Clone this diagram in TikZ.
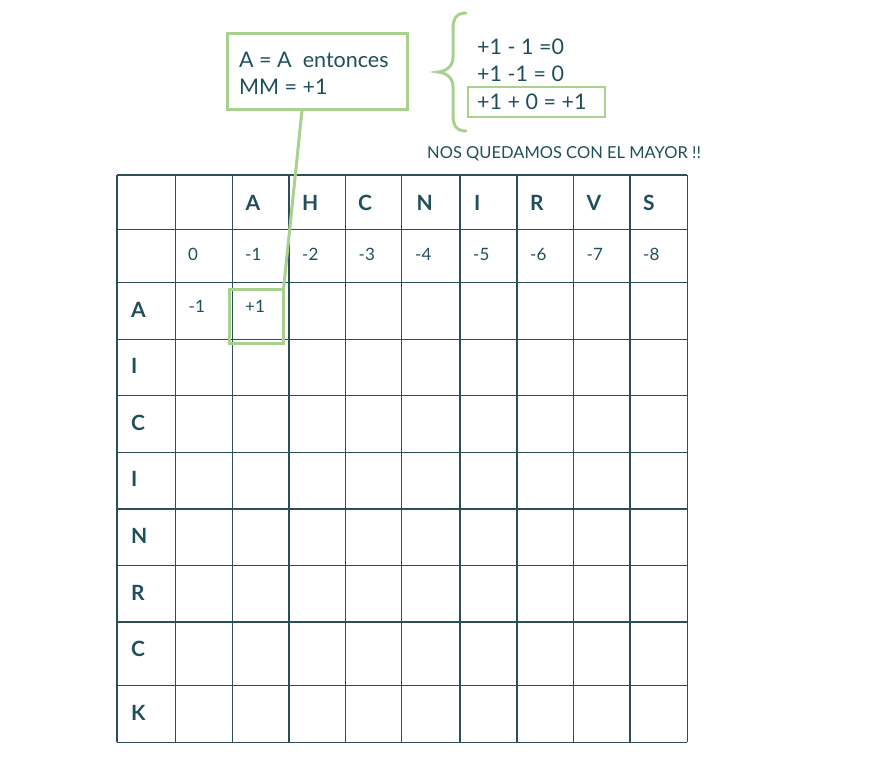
\documentclass[tikz,border=0pt]{standalone}
\usepackage{fontspec}
\setmainfont{Lato}
\definecolor{txt}{HTML}{1F4F5A}
\definecolor{gridc}{HTML}{2C4E57}
\definecolor{grn}{HTML}{A9D18E}
\begin{document}
\begin{tikzpicture}[x=1pt,y=-1pt,
  gridline/.style={draw=gridc,line width=1.5pt},
  hdr/.style={anchor=west,inner sep=0pt,text=txt,font=\fontsize{21}{24}\bfseries\selectfont},
  num/.style={anchor=west,inner sep=0pt,text=txt,font=\fontsize{17}{20}\selectfont},
  big/.style={anchor=base west,inner sep=0pt,text=txt,font=\fontsize{21.5}{24}\selectfont},
  small/.style={anchor=base west,inner sep=0pt,text=txt,font=\fontsize{16.5}{18}\selectfont},
  greenbox/.style={draw=grn,line width=3pt,outer sep=0pt},
]
\useasboundingbox (0,0) rectangle (879,760);
% grid
\foreach \y in {175,229.5,282.5,339.3,395.7,452.3,509,565.5,621.8,685.7,742.3}
  \draw[gridline] (117,\y) -- (687.3,\y);
\foreach \x in {117,175.7,232.7,289,345.7,401.5,460,517,573.3,630,687.3}
  \draw[gridline] (\x,175) -- (\x,742.3);
% header letters
\foreach \x/\l [count=\i] in {245.5/A,302/H,358/C,416.5/N,474/I,530/R,586.5/V,643/S}
  \node[hdr] (h\i) at (\x,202.5) {\l};
% numbers row
\foreach \x/\l [count=\i] in {188/0,245/-1,302/-2,358.5/-3,415/-4,473/-5,530/-6,586.5/-7,643/-8}
  \node[num] (n\i) at (\x,254) {\l};
% row labels
\foreach \y/\l [count=\i] in {309.5/A,366/I,422.7/C,479.3/I,536/N,592.5/R,649/C,712.7/K}
  \node[hdr] (r\i) at (131,\y) {\l};
% row A values
\node[num] (a1) at (188.5,306) {-1};
\node[num] (a2) at (245,306) {+1};
% highlighted cell
\node[greenbox,minimum width=54pt,minimum height=54pt,inner sep=0pt,anchor=north west] (hl) at (229.5,289.5) {};
% callout
\node[greenbox,minimum width=180pt,minimum height=76pt,inner sep=0pt,anchor=north west] (callout) at (227.5,33.5) {};
\node[big] (c1) at (239,67) {A = A\ \ entonces};
\node[big] (c2) at (239,95) {MM = +1};
\coordinate (cs) at (302,110);
\draw[draw=grn,line width=3pt] (cs) -- (hl.north east);
% brace
\draw[draw=grn,line width=3pt,line cap=round]
  (466,13) .. controls (456,13) and (453,19) .. (453,29) -- (453,57)
  .. controls (453,66) and (447,71) .. (438,72)
  .. controls (447,73) and (453,78) .. (453,87) -- (453,115)
  .. controls (453,125) and (456,131) .. (466,131);
% equations
\node[big] (e1) at (477,55) {+1 - 1 =0};
\node[big] (e2) at (477,82) {+1 -1 = 0};
\node[draw=grn,line width=1.2pt,outer sep=0pt,minimum width=137pt,minimum height=30pt,inner sep=0pt,anchor=north west] (ebox) at (468,87) {};
\node[big] (e3) at (477,110) {+1 + 0 = +1};
% conclusion
\node[small] (concl) at (427,158.5) {NOS QUEDAMOS CON EL MAYOR !!};
\end{tikzpicture}
\end{document}
